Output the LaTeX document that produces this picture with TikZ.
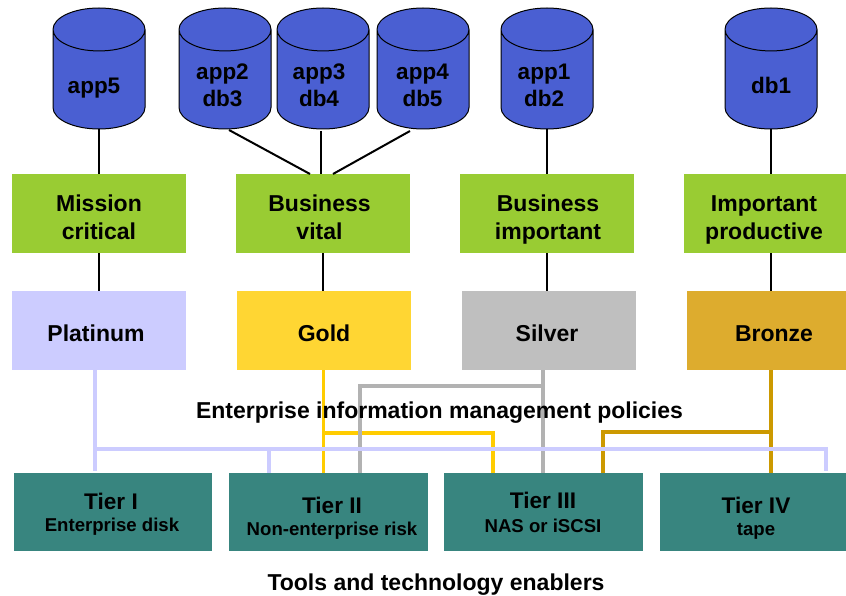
\documentclass[tikz,border=0pt]{standalone}
\usepackage{fontspec}
\setmainfont{Liberation Sans}
\usetikzlibrary{shapes.geometric}
\definecolor{cylblue}{HTML}{4A5FD2}
\definecolor{tiergreen}{HTML}{99CC33}
\definecolor{lav}{HTML}{CCCCFF}
\definecolor{goldc}{HTML}{FFD633}
\definecolor{goldl}{HTML}{FFCC00}
\definecolor{silv}{HTML}{BFBFBF}
\definecolor{silvl}{HTML}{B2B2B2}
\definecolor{bronzec}{HTML}{DDAC2E}
\definecolor{bronzel}{HTML}{CC9900}
\definecolor{teal1}{HTML}{38857F}
% text in a box of constant size: #1 horizontal shift, #2 drop, #3 lines
\newcommand{\dropped}[3]{\makebox[52pt]{\hspace*{#1}\hspace*{#1}\raisebox{#2}[0pt][0pt]{\begin{tabular}[c]{@{}c@{}}#3\end{tabular}}}}
\tikzset{
  x=1pt,y=-1pt,
  cyl/.style={cylinder,shape border rotate=90,draw=black,line width=1pt,fill=cylblue,
    minimum width=92pt,minimum height=121pt,aspect=0.826,inner sep=0pt,outer sep=0pt,
    anchor=shape center,font=\bfseries\fontsize{22.5}{27}\selectfont},
  catbox/.style={fill=tiergreen,minimum width=174pt,minimum height=79pt,inner sep=0pt,outer sep=0pt,
    font=\bfseries\fontsize{23}{28}\selectfont},
  policybox/.style={minimum width=174pt,minimum height=79pt,inner sep=0pt,outer sep=0pt,
    font=\bfseries\fontsize{23}{28}\selectfont},
  tierbox/.style={fill=teal1,minimum height=78pt,inner sep=0pt,outer sep=0pt},
  tiertitle/.style={font=\bfseries\fontsize{22.6}{27}\selectfont,inner sep=0pt},
  tiersub/.style={font=\bfseries\fontsize{18.6}{22}\selectfont,inner sep=0pt},
  blk/.style={draw=black,line width=2pt},
  lavline/.style={draw=lav,line width=4pt},
  goldline/.style={draw=goldl,line width=3.5pt},
  silvline/.style={draw=silvl,line width=3.5pt},
  bronzeline/.style={draw=bronzel,line width=3.5pt},
  heading/.style={font=\bfseries\fontsize{23}{28}\selectfont,inner sep=0pt},
}
\begin{document}
\begin{tikzpicture}
\useasboundingbox (0,0) rectangle (846,596);
% cylinders
\node[cyl] (c5) at (99,68.5) {\dropped{-5pt}{-14pt}{app5}};
\node[cyl] (c2) at (225,68.5) {\dropped{-2.5pt}{-13pt}{app2\\db3}};
\node[cyl] (c3) at (323,68.5) {\dropped{-4pt}{-13pt}{app3\\db4}};
\node[cyl] (c4) at (423,68.5) {\dropped{-0.5pt}{-13pt}{app4\\db5}};
\node[cyl] (c1) at (547,68.5) {\dropped{-3pt}{-13pt}{app1\\db2}};
\node[cyl] (c6) at (771,68.5) {\dropped{0pt}{-14pt}{db1}};
% categories
\node[catbox] (mission) at (99,213.5) {\dropped{0pt}{-13pt}{Mission\\critical}};
\node[catbox] (vital) at (323,213.5) {\dropped{-3.5pt}{-13pt}{Business\\vital}};
\node[catbox] (important) at (547,213.5) {\dropped{1pt}{-13pt}{Business\\important}};
\node[catbox] (productive) at (771,213.5) {\dropped{-7pt}{-13pt}{Important\\productive}};
% policies
\node[policybox,fill=lav] (plat) at (99,330.5) {\dropped{-3pt}{-12pt}{Platinum}};
\node[policybox,fill=goldc] (gold) at (324,330.5) {\dropped{0pt}{-12pt}{Gold}};
\node[policybox,fill=silv] (silver) at (549,330.5) {\dropped{-2pt}{-12pt}{Silver}};
\node[policybox,fill=bronzec] (bronze) at (774,330.5) {\dropped{0pt}{-12pt}{Bronze}};
% tiers
\node[tierbox,minimum width=198pt] (t1) at (113,512) {};
\node[tierbox,minimum width=199pt] (t2) at (328.5,512) {};
\node[tierbox,minimum width=199pt] (t3) at (543.5,512) {};
\node[tierbox,minimum width=199pt] (t4) at (759.5,512) {};
% black connectors
\draw[blk] (c5.south) -- (mission.north);
\draw[blk] ([shift={(4,1)}]c2.south) -- ([shift={(-13,0)}]vital.north);
\coordinate (x3) at (321,0);
\draw[blk] ([yshift=-2pt]x3 |- c3.south) -- (x3 |- vital.north);
\draw[blk] ([shift={(-13,2)}]c4.south) -- ([shift={(10,0)}]vital.north);
\draw[blk] (c1.south) -- (important.north);
\draw[blk] (c6.south) -- (productive.north);
\draw[blk] (mission.south) -- (mission.south |- plat.north);
\draw[blk] (vital.south) -- (vital.south |- gold.north);
\draw[blk] (important.south) -- (important.south |- silver.north);
\draw[blk] (productive.south) -- (productive.south |- bronze.north);
% columns and rows of the coloured connectors
\coordinate (xg) at (323.5,433);
\coordinate (xg2) at (493,0);
\coordinate (xs) at (543,386);
\coordinate (xs2) at (360,0);
\coordinate (xb) at (771,432);
\coordinate (xb2) at (603,0);
\coordinate (xp) at (95,448.5);
\coordinate (xp2) at (269,0);
\coordinate (xp3) at (826,0);
% coloured connectors
\draw[goldline] (xg |- gold.south) -- (xg |- t2.north);
\draw[goldline] (xg) -- (xg2 |- xg) -- (xg2 |- t3.north);
\draw[silvline] (xs |- silver.south) -- (xs |- t3.north);
\draw[silvline] (xs) -- (xs2 |- xs) -- (xs2 |- t2.north);
\draw[bronzeline] (xb |- bronze.south) -- (xb |- t4.north);
\draw[bronzeline] (xb) -- (xb2 |- xb) -- (xb2 |- t3.north);
\draw[lavline] (xp |- plat.south) -- ([yshift=2pt]xp |- t1.north);
\draw[lavline] (xp) -- (xp3 |- xp) -- ([yshift=2pt]xp3 |- t4.north);
\draw[lavline] (xp2 |- xp) -- (xp2 |- t2.north);
% tier texts
\node[tiertitle] (t1a) at (111,501) {Tier I};
\node[tiersub] (t1b) at (112,527) {Enterprise disk};
\node[tiertitle] (t2a) at (332,505) {Tier II};
\node[tiersub] (t2b) at (332,531) {Non-enterprise risk};
\node[tiertitle] (t3a) at (543,500) {Tier III};
\node[tiersub] (t3b) at (543,526) {NAS or iSCSI};
\node[tiertitle] (t4a) at (756,505) {Tier IV};
\node[tiersub] (t4b) at (756,531) {tape};
% headings
\node[heading] (pol) at (439.5,413) {Enterprise information management policies};
\node[heading] (tools) at (436,585) {Tools and technology enablers};
\end{tikzpicture}
\end{document}
